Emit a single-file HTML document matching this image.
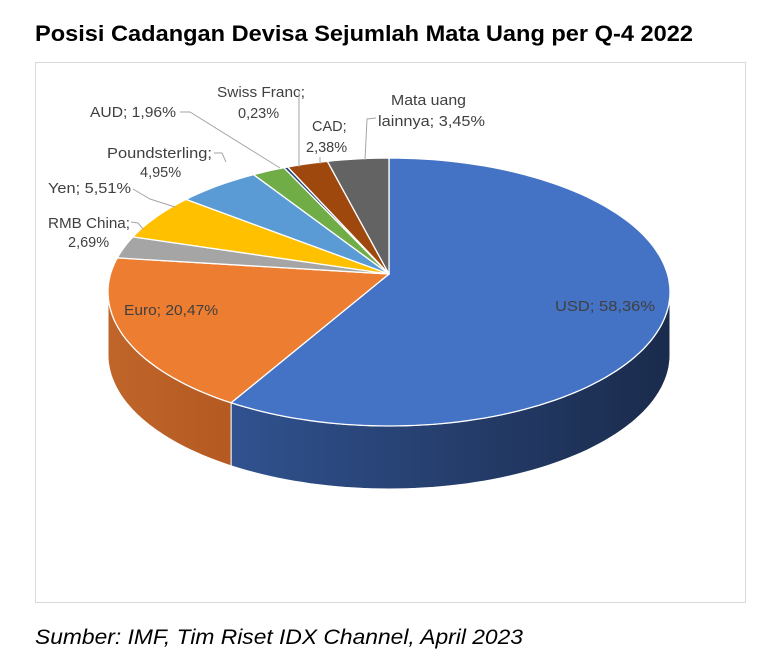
<!DOCTYPE html>
<html><head><meta charset="utf-8"><style>
body{margin:0;background:#fff;width:770px;height:664px;overflow:hidden;font-family:"Liberation Sans",sans-serif}
</style></head><body>
<svg width="770" height="664" xmlns="http://www.w3.org/2000/svg" style="position:absolute;left:0;top:0">
<defs>
<linearGradient id="gU" x1="0" x2="1"><stop offset="0" stop-color="#30528f"/><stop offset="0.6" stop-color="#233a66"/><stop offset="1" stop-color="#1a2b4c"/></linearGradient>
<linearGradient id="gE" x1="0" x2="1"><stop offset="0" stop-color="#c0652a"/><stop offset="1" stop-color="#b45a22"/></linearGradient>
</defs>
<text x="35" y="41" font-size="22" font-weight="bold" fill="#000" textLength="658" lengthAdjust="spacingAndGlyphs">Posisi Cadangan Devisa Sejumlah Mata Uang per Q-4 2022</text>
<rect x="35.5" y="62.5" width="710" height="540" fill="#fff" stroke="#d9d9d9"/>
<g id="pie"></g>
<g font-size="14.5" fill="#404040">
<text x="555" y="311" textLength="100" lengthAdjust="spacingAndGlyphs">USD; 58,36%</text>
<text x="124" y="315" textLength="94" lengthAdjust="spacingAndGlyphs">Euro; 20,47%</text>
<text x="48" y="228" textLength="82" lengthAdjust="spacingAndGlyphs">RMB China;</text>
<text x="68" y="247">2,69%</text>
<text x="48" y="193" textLength="83" lengthAdjust="spacingAndGlyphs">Yen; 5,51%</text>
<text x="107" y="158" textLength="105" lengthAdjust="spacingAndGlyphs">Poundsterling;</text>
<text x="140" y="177">4,95%</text>
<text x="90" y="117" textLength="86" lengthAdjust="spacingAndGlyphs">AUD; 1,96%</text>
<text x="217" y="97" textLength="88" lengthAdjust="spacingAndGlyphs">Swiss Franc;</text>
<text x="238" y="118">0,23%</text>
<text x="312" y="131">CAD;</text>
<text x="306" y="152">2,38%</text>
<text x="391" y="105" textLength="75" lengthAdjust="spacingAndGlyphs">Mata uang</text>
<text x="378" y="126" textLength="107" lengthAdjust="spacingAndGlyphs">lainnya; 3,45%</text>
</g>
<g stroke="#a6a6a6" fill="none" stroke-width="1">
<polyline points="131,222 138,223 143,229"/>
<polyline points="133,189 150,199 175,207"/>
<polyline points="214,153 222,153 226,162"/>
<polyline points="180,112 190,112 280,168"/>
<polyline points="299,92 299,167"/>
<polyline points="320,157 320,164"/>
<polyline points="376,118 367,119 365,160"/>
</g>
<text x="35" y="644" font-size="21" font-style="italic" fill="#000" textLength="488" lengthAdjust="spacingAndGlyphs">Sumber: IMF, Tim Riset IDX Channel, April 2023</text>
</svg>
<script>
(function(){
var cx=389,cy=292,rx=281,ry=134,ax=389,ay=274,d=63;
function P(f){var t=f*2*Math.PI;return [cx+rx*Math.sin(t),cy-ry*Math.cos(t)];}
function arc(f1,f2){var s='';var n=Math.max(2,Math.ceil((f2-f1)*200));for(var i=0;i<=n;i++){var p=P(f1+(f2-f1)*i/n);s+=(i?' L':'')+p[0].toFixed(1)+','+p[1].toFixed(1);}return s;}
function arcD(f1,f2,dy){var s='';var n=Math.max(2,Math.ceil((f2-f1)*200));for(var i=n;i>=0;i--){var p=P(f1+(f2-f1)*i/n);s+=' L'+p[0].toFixed(1)+','+(p[1]+dy).toFixed(1);}return s;}
var data=[[.595,'#4472c4'],[.196,'#ed7d31'],[.0265,'#a5a5a5'],[.054,'#ffc000'],[.0485,'#5b9bd5'],[.019,'#70ad47'],[.0023,'#264478'],[.0235,'#9e480e'],[.0352,'#636363']];
var g=document.getElementById('pie'),h='';
var ue=data[0][0];
h+='<path d="M'+arc(.25,ue)+arcD(.25,ue,d)+' Z" fill="url(#gU)" stroke="#fff" stroke-width="1"/>';
h+='<path d="M'+arc(ue,.75)+arcD(ue,.75,d)+' Z" fill="url(#gE)" stroke="#fff" stroke-width="1"/>';
var c=0;
data.forEach(function(s){var f1=c,f2=c+s[0];c=f2;
h+='<path d="M'+ax+','+ay+' L'+arc(f1,f2)+' Z" fill="'+s[1]+'" stroke="#fff" stroke-width="1.3" stroke-linejoin="round"/>';});
g.innerHTML=h;
})();
</script>
</body></html>
